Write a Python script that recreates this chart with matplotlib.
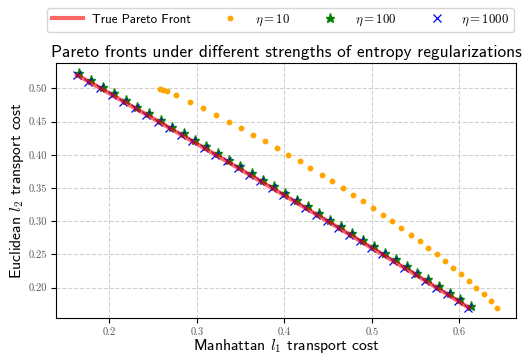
import matplotlib
matplotlib.use("Agg")
import matplotlib.pyplot as plt

# values
front_x = [0.1630, 0.1764, 0.1898, 0.2031, 0.2164, 0.2296, 0.2429, 0.2561, 0.2692, 0.2823,
           0.2954, 0.3085, 0.3215, 0.3345, 0.3474, 0.3603, 0.3732, 0.3860, 0.3988, 0.4116,
           0.4243, 0.4370, 0.4497, 0.4623, 0.4749, 0.4874, 0.4999, 0.5124, 0.5249, 0.5373,
           0.5497, 0.5620, 0.5743, 0.5866, 0.5988, 0.6110]
front_y = [0.52, 0.51, 0.50, 0.49, 0.48, 0.47, 0.46, 0.45, 0.44, 0.43,
           0.42, 0.41, 0.40, 0.39, 0.38, 0.37, 0.36, 0.35, 0.34, 0.33,
           0.32, 0.31, 0.30, 0.29, 0.28, 0.27, 0.26, 0.25, 0.24, 0.23,
           0.22, 0.21, 0.20, 0.19, 0.18, 0.17]

eta10_x = [0.2580, 0.2616, 0.2661, 0.2764, 0.2918, 0.3070, 0.3219, 0.3364, 0.3507, 0.3645,
           0.3783, 0.3916, 0.4048, 0.4176, 0.4297, 0.4428, 0.4549, 0.4668, 0.4789, 0.4904,
           0.5018, 0.5126, 0.5236, 0.5339, 0.5446, 0.5549, 0.5648, 0.5744, 0.5839, 0.5930,
           0.6022, 0.6110, 0.6197, 0.6281, 0.6362, 0.6437]
eta10_y = [0.4994, 0.4979, 0.4955, 0.4895, 0.4800, 0.4700, 0.4600, 0.4500, 0.4400, 0.4300,
           0.4200, 0.4100, 0.4000, 0.3900, 0.3800, 0.3700, 0.3600, 0.3500, 0.3400, 0.3300,
           0.3200, 0.3100, 0.3000, 0.2900, 0.2800, 0.2700, 0.2600, 0.2500, 0.2400, 0.2300,
           0.2200, 0.2100, 0.2000, 0.1900, 0.1800, 0.1700]

eta100_x = [0.1655, 0.1789, 0.1923, 0.2056, 0.2189, 0.2321, 0.2454, 0.2586, 0.2717, 0.2848,
            0.2979, 0.3110, 0.3240, 0.3370, 0.3499, 0.3628, 0.3757, 0.3885, 0.4013, 0.4141,
            0.4268, 0.4395, 0.4522, 0.4648, 0.4774, 0.4899, 0.5024, 0.5149, 0.5274, 0.5398,
            0.5522, 0.5645, 0.5768, 0.5891, 0.6013, 0.6135]
eta100_y = [0.5225, 0.5125, 0.5025, 0.4925, 0.4825, 0.4725, 0.4625, 0.4525, 0.4425, 0.4325,
            0.4225, 0.4125, 0.4025, 0.3925, 0.3825, 0.3725, 0.3625, 0.3525, 0.3425, 0.3325,
            0.3225, 0.3125, 0.3025, 0.2925, 0.2825, 0.2725, 0.2625, 0.2525, 0.2425, 0.2325,
            0.2225, 0.2125, 0.2025, 0.1925, 0.1825, 0.1725]

eta1000_x = [0.1625, 0.1759, 0.1893, 0.2026, 0.2159, 0.2291, 0.2424, 0.2556, 0.2687, 0.2818,
             0.2949, 0.3080, 0.3210, 0.3340, 0.3469, 0.3598, 0.3727, 0.3855, 0.3983, 0.4111,
             0.4238, 0.4365, 0.4492, 0.4618, 0.4744, 0.4869, 0.4994, 0.5119, 0.5244, 0.5368,
             0.5492, 0.5615, 0.5738, 0.5861, 0.5983, 0.6105]
eta1000_y = [0.520, 0.510, 0.500, 0.490, 0.480, 0.470, 0.460, 0.450, 0.440, 0.430,
             0.420, 0.410, 0.400, 0.390, 0.380, 0.370, 0.360, 0.350, 0.340, 0.330,
             0.320, 0.310, 0.300, 0.290, 0.280, 0.270, 0.260, 0.250, 0.240, 0.230,
             0.220, 0.210, 0.200, 0.190, 0.180, 0.170]

x_ticks = [0.2, 0.3, 0.4, 0.5, 0.6]
y_ticks = [0.20, 0.25, 0.30, 0.35, 0.40, 0.45, 0.50]

plt.rcParams["font.family"] = ["cmss10", "DejaVu Sans"]
plt.rcParams["mathtext.fontset"] = "cm"
plt.rcParams["axes.unicode_minus"] = False

fig = plt.figure(figsize=(5.24, 3.54), dpi=100)
ax = fig.add_axes([56/524, 1 - 318/354, 460/524, 255/354])

ax.plot(eta10_x, eta10_y, "o", color="orange", ms=3.2, ls="none", label=r"$\eta=10$", zorder=2)
ax.plot(eta100_x, eta100_y, "*", color="green", ms=6.5, ls="none", label=r"$\eta=100$", zorder=2)
ax.plot(eta1000_x, eta1000_y, "x", color="blue", ms=5.5, mew=0.9, ls="none", label=r"$\eta=1000$", zorder=2)
ax.plot(front_x, front_y, "-", color="red", lw=3, alpha=0.6, label="True Pareto Front", zorder=3)

ax.set_xlim(0.139, 0.665)
ax.set_ylim(0.1545, 0.538)
ax.set_xticks(x_ticks)
ax.set_xticklabels([f"{v:.1f}" for v in x_ticks], fontfamily="cmr10", fontsize=7.5, color="#555555")
ax.set_yticks(y_ticks)
ax.set_yticklabels([f"{v:.2f}" for v in y_ticks], fontfamily="cmr10", fontsize=7.5, color="#555555")
ax.tick_params(length=3.5, width=0.8, pad=3)

ax.grid(True, ls="--", color="#d0d0d0", lw=0.8)
ax.set_axisbelow(True)

ax.set_xlabel(r"Manhattan $l_1$ transport cost", fontsize=11.3, labelpad=0)
ax.set_ylabel(r"Euclidean $l_2$ transport cost", fontsize=11.3, labelpad=2)
ax.set_title("Pareto fronts under different strengths of entropy regularizations", fontsize=12.5, pad=4)

handles, labels = ax.get_legend_handles_labels()
order = [3, 0, 1, 2]
fig.legend([handles[i] for i in order], [labels[i] for i in order],
           loc="upper left", bbox_to_anchor=(47/524, 1 - 8/354), borderaxespad=0,
           ncol=4, fontsize=9.3, handlelength=2.4, handletextpad=0.7, columnspacing=1.9,
           borderpad=0.35, frameon=True, edgecolor="#cccccc", fancybox=True)

fig.savefig("out.png", dpi=100)
